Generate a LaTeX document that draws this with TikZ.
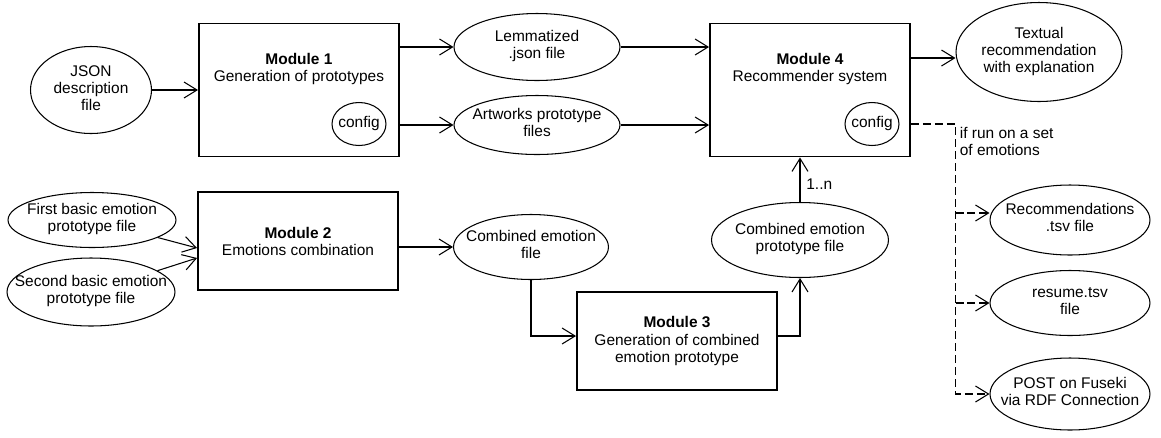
\documentclass[tikz,border=0pt]{standalone}
\usepackage{fontspec}
\setmainfont{Liberation Sans}
\usetikzlibrary{arrows.meta,positioning,shapes.geometric}

% text of an oval that does not widen the oval
\newcommand{\ovaltxt}[1]{\makebox[0pt]{\begin{tabular}{@{}c@{}}#1\end{tabular}}}

\begin{document}
\begin{tikzpicture}[
  x=0.02cm, y=-0.02cm,
  font=\fontsize{8.8}{9.7}\selectfont,
  module/.style={rectangle, draw, line width=1.1pt, minimum width=4cm,
    minimum height=#1, inner sep=0pt, align=center},
  modtitle/.style={anchor=north, align=center, inner sep=0pt, yshift=-0.6cm},
  file/.style={ellipse, draw, line width=0.6pt, inner sep=0pt},
  arrow/.style={-{Straight Barb[length=0.26cm, width=0.32cm, sharp]}, line width=0.6pt},
  dasharrow/.style={arrow, dash pattern=on 0.16cm off 0.08cm}
]
  \useasboundingbox (0,0) rectangle (1161,437);

  % Module 1 and Module 4
  \node[file, minimum width=2.42cm, minimum height=1.74cm] (json) at (91,90) {\ovaltxt{JSON\\description\\file}};
  \node[module=2.66cm, right=0.92cm of json,
    label={[modtitle]north:{\textbf{Module 1}\\Generation of prototypes}}] (m1) {};
  \node[file, minimum width=1.08cm, minimum height=0.86cm] (cfg1) at (359,124) {\ovaltxt{config}};
  \node[file, minimum width=3.32cm, minimum height=1.34cm] (lem) at (537,47) {\ovaltxt{Lemmatized\\.json file}};
  \node[file, minimum width=3.32cm, minimum height=1.18cm] (art) at (537,125) {\ovaltxt{Artworks prototype\\files}};
  \node[module=2.66cm,
    label={[modtitle]north:{\textbf{Module 4}\\Recommender system}}] (m4) at (810,90) {};
  \node[file, minimum width=1.08cm, minimum height=0.86cm] (cfg4) at (872,124) {\ovaltxt{config}};
  \node[file, minimum width=3.32cm, minimum height=1.98cm] (out) at (1039,52) {\ovaltxt{Textual\\recommendation\\with explanation}};

  % Module 2 and Module 3
  \node[module=1.96cm] (m2) at (298,241) {\textbf{Module 2}\\Emotions combination};
  \node[file, minimum width=3.36cm, minimum height=1.1cm] (first) at (92,220) {\ovaltxt{First basic emotion\\prototype file}};
  \node[file, minimum width=3.36cm, minimum height=1.36cm] (second) at (91,292) {\ovaltxt{Second basic emotion\\prototype file}};
  \node[file, minimum width=3.1cm, minimum height=1.3cm] (comb) at (531,247) {\ovaltxt{Combined emotion\\file}};
  \node[module=1.96cm] (m3) at (677,341) {\textbf{Module 3}\\Generation of combined\\emotion prototype};
  \node[file, minimum width=3.54cm, minimum height=1.5cm] (proto) at (800,240) {\ovaltxt{Combined emotion\\prototype file}};

  % outputs of a run on a set
  \node[file, minimum width=3.2cm, minimum height=1.4cm] (rec) at (1070,220) {\ovaltxt{Recommendations\\.tsv file}};
  \node[file, minimum width=3.2cm, minimum height=1.3cm] (res) at (1070,303) {\ovaltxt{resume.tsv\\file}};
  \node[file, minimum width=3.2cm, minimum height=1.44cm] (post) at (1070,394) {\ovaltxt{POST on Fuseki\\via RDF Connection}};

  \draw[arrow] (json) -- (m1);
  \draw[arrow] (m1.east |- lem) -- (lem);
  \draw[arrow] (m1.east |- art) -- (art);
  \draw[arrow] (lem) -- (lem -| m4.west);
  \draw[arrow] (art) -- (art -| m4.west);
  \coordinate (m4out) at ([yshift=0.64cm]m4.east);
  \draw[arrow] (m4out) -- (m4out -| out.west);

  \coordinate (m2in1) at ([yshift=-0.14cm]m2.west);
  \coordinate (m2in2) at ([yshift=-0.34cm]m2.west);
  \draw[arrow] (first) -- (m2in1);
  \draw[arrow] (second) -- (m2in2);
  \draw[arrow] (m2.east |- comb) -- (comb);
  \coordinate (m3in) at ([yshift=0.1cm]m3.west);
  \coordinate (m3out) at ([yshift=0.1cm]m3.east);
  \draw[arrow] (comb.south) |- (m3in);
  \draw[arrow] (m3out) -| (proto.south);
  \draw[arrow] (proto.north) -- node[right, pos=0.4] (mult) {1..n} (proto.north |- m4.south);

  \coordinate (bus) at ([xshift=-0.68cm]rec.west |- cfg4);
  \coordinate (recin) at ([yshift=0.14cm]rec.west);
  \draw[dasharrow] (m4.east |- cfg4) -- (bus) |- (post.west);
  \draw[dasharrow] (bus |- recin) -- (recin);
  \draw[dasharrow] (bus |- res.west) -- (res.west);
  \node[below right=0.06cm and 0.08cm of bus, inner sep=0pt, align=left] (cond) {if run on a set\\of emotions};
\end{tikzpicture}
\end{document}
